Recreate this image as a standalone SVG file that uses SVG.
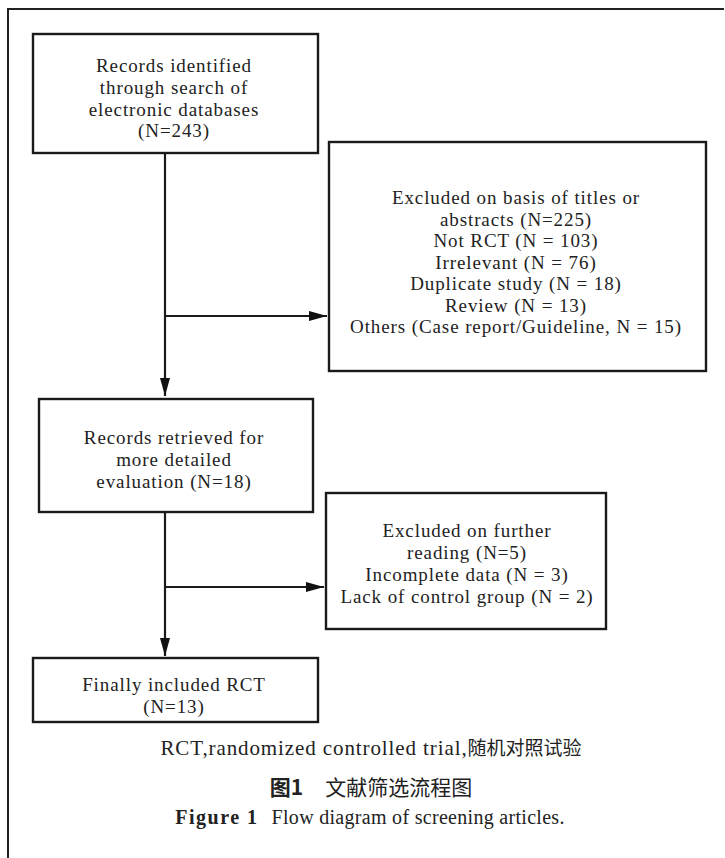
<svg xmlns="http://www.w3.org/2000/svg" width="725" height="858" viewBox="0 0 725 858">
<style>
.box{fill:#fff;stroke:#1a1a1a;stroke-width:2.4}
.t{font-family:"Liberation Serif","Noto Sans CJK SC",serif;font-size:19px;letter-spacing:0.9px;fill:#222;text-anchor:middle}
.c{font-family:"Liberation Serif","Noto Sans CJK SC",serif;fill:#222;text-anchor:middle}
.cjk{font-family:"Noto Sans CJK SC",sans-serif}
.ln{fill:none;stroke:#1a1a1a;stroke-width:2.2}
</style>
<defs>
<marker id="ah" markerUnits="userSpaceOnUse" markerWidth="18" markerHeight="10" refX="18" refY="5" orient="auto">
<path d="M0,0 L18,5 L0,10 z" fill="#111"/>
</marker>
</defs>
<rect width="725" height="858" fill="#fff"/>
<path d="M8,858 V9 H724" fill="none" stroke="#222" stroke-width="2"/>
<g id="connectors">
<path class="ln" d="M165,153 V396" marker-end="url(#ah)"/>
<path class="ln" d="M165,316 H327" marker-end="url(#ah)"/>
<path class="ln" d="M165,512 V656" marker-end="url(#ah)"/>
<path class="ln" d="M165,587 H324" marker-end="url(#ah)"/>
</g>
<g id="records-identified">
<rect class="box" x="33" y="34" width="285" height="119"/>
<text class="t" x="174" y="72">Records identified</text>
<text class="t" x="174" y="94">through search of</text>
<text class="t" x="174" y="115.5">electronic databases</text>
<text class="t" x="174" y="137">(N=243)</text>
</g>
<g id="excluded-titles">
<rect class="box" x="329" y="142" width="377" height="229"/>
<text class="t" x="516" y="204">Excluded on basis of titles or</text>
<text class="t" x="516" y="225.5">abstracts (N=225)</text>
<text class="t" x="516" y="247">Not RCT (N = 103)</text>
<text class="t" x="516" y="268.5">Irrelevant (N = 76)</text>
<text class="t" x="516" y="290">Duplicate study (N = 18)</text>
<text class="t" x="516" y="311.5">Review (N = 13)</text>
<text class="t" x="516" y="333">Others (Case report/Guideline, N = 15)</text>
</g>
<g id="records-retrieved">
<rect class="box" x="39" y="399" width="274" height="113"/>
<text class="t" x="174" y="443.5">Records retrieved for</text>
<text class="t" x="174" y="466">more detailed</text>
<text class="t" x="174" y="488">evaluation (N=18)</text>
</g>
<g id="excluded-further">
<rect class="box" x="326" y="493" width="280" height="136"/>
<text class="t" x="467" y="537">Excluded on further</text>
<text class="t" x="467" y="559">reading (N=5)</text>
<text class="t" x="467" y="581">Incomplete data (N = 3)</text>
<text class="t" x="467" y="603">Lack of control group (N = 2)</text>
</g>
<g id="finally-included">
<rect class="box" x="33" y="658" width="285" height="64"/>
<text class="t" x="174" y="690.5">Finally included RCT</text>
<text class="t" x="174" y="713">(N=13)</text>
</g>
<g id="captions">
<text class="c" x="371" y="755" font-size="21"><tspan letter-spacing="0.9">RCT,randomized controlled trial,</tspan><tspan class="cjk" font-size="19">随机对照试验</tspan></text>
<text class="c" x="371" y="795" font-size="21"><tspan class="cjk" font-weight="bold">图1</tspan><tspan class="cjk" dx="22">文献筛选流程图</tspan></text>
<text class="c" x="370" y="824" font-size="20"><tspan font-weight="bold" letter-spacing="1.5">Figure 1</tspan><tspan dx="13" letter-spacing="0.3">Flow diagram of screening articles.</tspan></text>
</g>
</svg>
